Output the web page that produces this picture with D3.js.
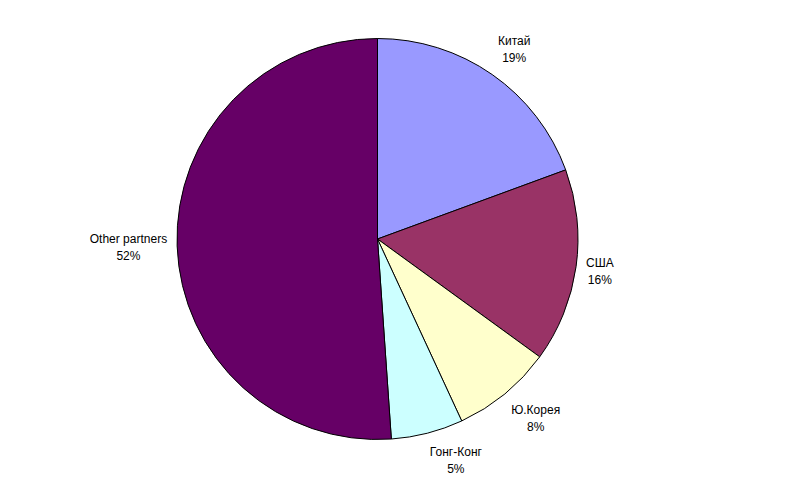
<!DOCTYPE html>
<html><head><meta charset="utf-8">
<script src="https://cdn.jsdelivr.net/npm/d3@7"></script>
<style>html,body{margin:0;padding:0;background:#fff;}svg{display:block;}</style>
</head><body>
<svg id="chart" width="800" height="498"></svg>
<script>
const categories = ["Китай", "США", "Ю.Корея", "Гонг-Конг", "Other partners"];
const values = [19.4, 15.6, 8.1, 5.8, 51.1];
const pctLabels = ["19%", "16%", "8%", "5%", "52%"];
const colors = ["#9999FF", "#993366", "#FFFFCC", "#CCFFFF", "#660066"];

const svg = d3.select("#chart");
const cx = 377.5, cy = 239, r = 200.5;
const g = svg.append("g").attr("transform", `translate(${cx},${cy})`);

const data = categories.map((c, i) => ({name: c, value: values[i], pct: pctLabels[i], color: colors[i]}));
const pie = d3.pie().sort(null).value(d => d.value);
const arc = d3.arc().innerRadius(0).outerRadius(r);
const arcs = pie(data);

g.selectAll("path").data(arcs).join("path")
  .attr("d", arc)
  .attr("fill", d => d.data.color)
  .attr("stroke", "#000")
  .attr("stroke-width", 1);

const fontFamily = "Arial, 'Liberation Sans', sans-serif";
const lineH = 17;
arcs.forEach(a => {
  const mid = (a.startAngle + a.endAngle) / 2;
  const s = Math.sin(mid), c = Math.cos(mid);
  const px = (r + 10) * s, py = -(r + 10) * c;
  const t = g.append("text")
    .attr("font-family", fontFamily)
    .attr("font-size", 12)
    .attr("fill", "#000")
    .attr("text-anchor", "middle");
  const l1 = t.append("tspan").text(a.data.name);
  const l2 = t.append("tspan").text(a.data.pct);
  const w = Math.max(l1.node().getComputedTextLength(), l2.node().getComputedTextLength());
  const h = lineH * 2;
  const bx = px + Math.sign(s) * w / 2;
  const by = py - Math.max(-1, Math.min(1, c * 1.5)) * h / 2;
  l1.attr("x", bx).attr("y", by - lineH / 2 + 4.3);
  l2.attr("x", bx).attr("y", by + lineH / 2 + 4.3);
});
</script>
</body></html>
